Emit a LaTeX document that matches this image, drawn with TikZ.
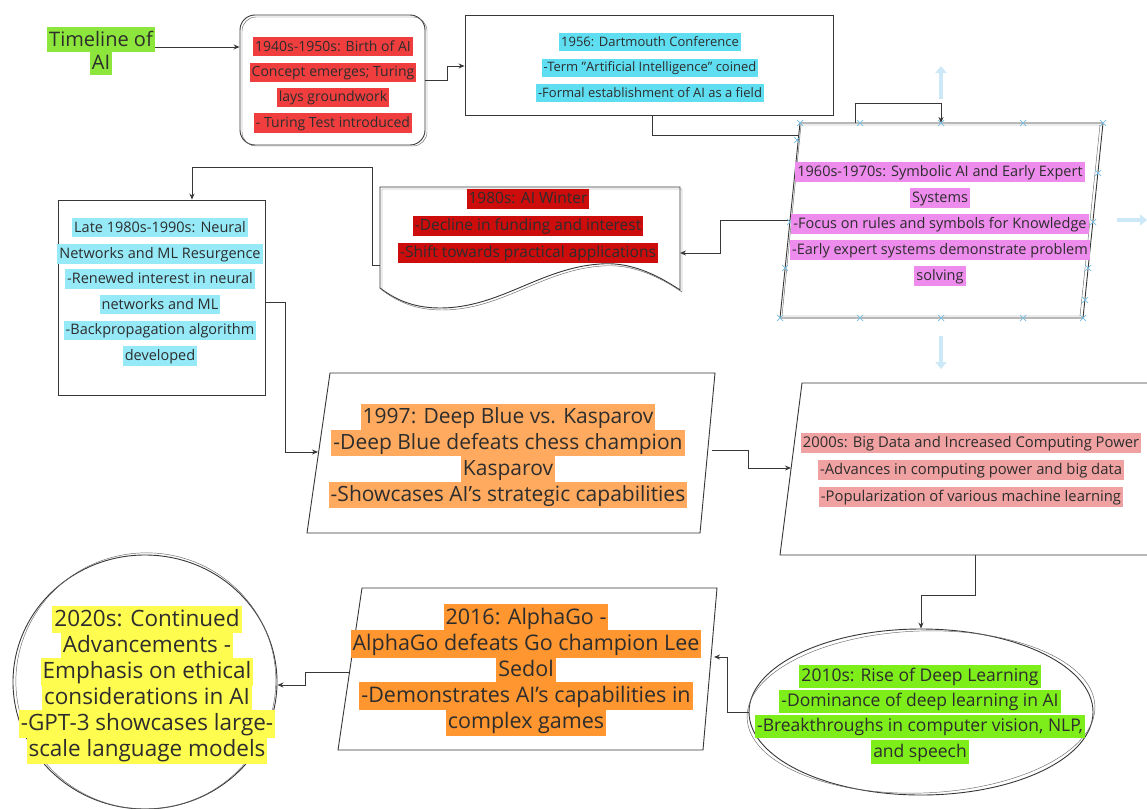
\documentclass[tikz,border=0pt]{standalone}
\usepackage{fontspec}
\setmainfont{Open Sans}
\usetikzlibrary{arrows.meta,shapes.geometric}

\definecolor{ink}{RGB}{45,45,45}
\definecolor{edge}{RGB}{55,55,55}
\definecolor{hlLime}{RGB}{140,230,60}
\definecolor{hlRed}{RGB}{240,62,62}
\definecolor{hlCyan}{RGB}{95,222,242}
\definecolor{hlCyanSoft}{RGB}{150,234,248}
\definecolor{hlMagenta}{RGB}{238,140,238}
\definecolor{hlDarkRed}{RGB}{205,12,12}
\definecolor{hlPeach}{RGB}{255,170,95}
\definecolor{hlPink}{RGB}{240,162,162}
\definecolor{hlGreen}{RGB}{125,238,25}
\definecolor{hlOrange}{RGB}{255,150,48}
\definecolor{hlYellow}{RGB}{255,252,80}
\definecolor{handle}{RGB}{120,190,225}
\definecolor{hintblue}{RGB}{205,232,247}

% highlighted text line
\newcommand\hl[2]{{\setlength\fboxsep{2pt}\colorbox{#1}{\rule[-0.2em]{0pt}{1.05em}#2}}}
% font size with a fixed line pitch
\newcommand\txtsize[2]{\fontsize{#1}{#2}\selectfont\lineskiplimit=-100pt\relax}

\begin{document}
\begin{tikzpicture}[x=1pt,y=-1pt,
  box/.style={draw=edge, line width=0.9pt, fill=white},
  echo/.style={draw=edge!75, line width=0.45pt},
  link/.style={draw=edge, line width=0.9pt, -{Stealth[length=6pt,width=5pt]}},
  txt/.style={align=center, inner sep=0pt, text=ink},
  hdl/.style={draw=handle, line width=0.7pt},
  hint/.style={draw=hintblue, line width=3.5pt, -{Triangle[length=7pt,width=11pt]}}
]
\useasboundingbox (0,0) rectangle (1147,808);
\fill[white] (0,0) rectangle (1147,808);

% faint hover arrows around the 1960s block
\draw[hint] (941,99) -- (941,66);
\draw[hint] (941,336) -- (941,369);
\draw[hint] (1117,220) -- (1147,220);

% rectangular and round blocks
\node[box, rounded corners=15pt, minimum width=185, minimum height=130] (b1) at (332.5,80) {};
\draw[echo, rounded corners=14pt] (242,17) rectangle (427,146);
\node[box, minimum width=368, minimum height=100] (b2) at (649,65) {};
\node[box, minimum width=207, minimum height=195] (b5) at (161.5,297.5) {};
\node[box, ellipse, minimum width=344, minimum height=166, inner sep=0pt] (b8) at (921,712) {};
\draw[echo, rotate around={2:(921,712)}] (921,712) ellipse [x radius=174, y radius=81];
\node[box, ellipse, minimum width=264, minimum height=254, inner sep=0pt] (b10) at (145,682) {};
\draw[echo, rotate around={8:(145,682)}] (146,681) ellipse [x radius=130, y radius=128];

% attachment points on the drawn outlines
\coordinate (p3top) at (941,123);
\coordinate (p3left) at (790,220);
\coordinate (p4left) at (380,265);
\coordinate (p4right) at (680,253);
\coordinate (p6left) at (318,452);
\coordinate (p6right) at (712,450);
\coordinate (p7left) at (791,468);
\coordinate (p7bottom) at (975,555);
\coordinate (p9left) at (350,672);
\coordinate (p9right) at (714,657);

% title
\node[txt, font=\txtsize{20}{23}] (title) at (101,51)
  {\hl{hlLime}{Timeline of}\\\hl{hlLime}{AI}};

% connectors
\draw[link] (title.east |- 0,47) -- (b1.west |- 0,47);
\draw[link] (b1.east) -- (447,80) -- (447,66) -- (b2.west |- 0,66);
\draw[link] (b2.south -| 652,0) -- (652,135) -- (855,135) -- (855,103) -- (941,103) -- (p3top);
\draw[link] (p3left) -- (720,220) -- (720,253) -- (p4right);
\draw[link] (p4left) -- (372,265) -- (372,167) -- (192,167) -- (b5.north -| 192,0);
\draw[link] (b5.east |- 0,302) -- (285,302) -- (285,452) -- (p6left);
\draw[link] (p6right) -- (748,450) -- (748,468) -- (p7left);
\draw[link] (p7bottom) -- (975,595) -- (921,595) -- (b8.north);
\draw[link] (b8.west) -- (727,712) -- (727,657) -- (p9right);
\draw[link] (p9left) -- (305,672) -- (305,685) -- (b10.east |- 0,685);

% slanted blocks and the document block
\draw[box] (800,123) -- (1103,123) -- (1083,318) -- (780,318) -- cycle;
\draw[echo] (801,125) -- (1100,125) -- (1080,316) -- (782,316) -- cycle;
\draw[box] (380,187) -- (680,187) -- (680,290)
  .. controls (650,270) and (625,262) .. (600,264)
  .. controls (540,268) and (500,308) .. (440,308)
  .. controls (410,308) and (392,297) .. (380,288) -- cycle;
\draw[echo, shift={(2,2)}] (380,187) -- (680,187) -- (680,290)
  .. controls (650,270) and (625,262) .. (600,264)
  .. controls (540,268) and (500,308) .. (440,308)
  .. controls (410,308) and (392,297) .. (380,288) -- cycle;
\draw[box] (330,373) -- (715,373) -- (700,533) -- (307,533) -- cycle;
\draw[box] (802,383) -- (1165,383) -- (1150,555) -- (780,555) -- cycle;
\draw[box] (362,588) -- (717,588) -- (703,750) -- (338,750) -- cycle;

% selection handles on the 1960s block
\foreach \x/\y in {800/123,860/123,941/123,1023/123,1103/123,
                   780/318,860/318,941/318,1023/318,1083/318,
                   797/140,790/222,785/268,
                   1098/173,1093/222,1088/268,1085/300}
  \draw[hdl] (\x-3,\y-3) -- (\x+3,\y+3) (\x-3,\y+3) -- (\x+3,\y-3);

% block texts
\node[txt, font=\txtsize{14}{25.3}] (n1) at (333,85)
  {\hl{hlRed}{1940s-1950s: Birth of AI}\\
   \hl{hlRed}{Concept emerges; Turing}\\
   \hl{hlRed}{lays groundwork}\\
   \hl{hlRed}{- Turing Test introduced}};

\node[txt, font=\txtsize{13}{25.5}] (n2) at (650,67.5)
  {\hl{hlCyan}{1956: Dartmouth Conference}\\
   \hl{hlCyan}{-Term "Artificial Intelligence" coined}\\
   \hl{hlCyan}{-Formal establishment of AI as a field}};

\node[txt, font=\txtsize{14.5}{26}] (n3) at (940,224)
  {\hl{hlMagenta}{1960s-1970s: Symbolic AI and Early Expert}\\
   \hl{hlMagenta}{Systems}\\
   \hl{hlMagenta}{-Focus on rules and symbols for Knowledge}\\
   \hl{hlMagenta}{-Early expert systems demonstrate problem}\\
   \hl{hlMagenta}{solving}};

\node[txt, font=\txtsize{15.5}{27}] (n4) at (528,226)
  {\hl{hlDarkRed}{1980s: AI Winter}\\
   \hl{hlDarkRed}{-Decline in funding and interest}\\
   \hl{hlDarkRed}{-Shift towards practical applications}};

\node[txt, font=\txtsize{14.5}{25.6}] (n5) at (160,292)
  {\hl{hlCyanSoft}{Late 1980s-1990s: Neural}\\
   \hl{hlCyanSoft}{Networks and ML Resurgence}\\
   \hl{hlCyanSoft}{-Renewed interest in neural}\\
   \hl{hlCyanSoft}{networks and ML}\\
   \hl{hlCyanSoft}{-Backpropagation algorithm}\\
   \hl{hlCyanSoft}{developed}};

\node[txt, font=\txtsize{21}{26}] (n6) at (508,456)
  {\hl{hlPeach}{1997: Deep Blue vs. Kasparov}\\
   \hl{hlPeach}{-Deep Blue defeats chess champion}\\
   \hl{hlPeach}{Kasparov}\\
   \hl{hlPeach}{-Showcases AI's strategic capabilities}};

\node[txt, font=\txtsize{14.8}{27}] (n7) at (971,470)
  {\hl{hlPink}{2000s: Big Data and Increased Computing Power}\\
   \hl{hlPink}{-Advances in computing power and big data}\\
   \hl{hlPink}{-Popularization of various machine learning}};

\node[txt, font=\txtsize{17.5}{25.3}] (n8) at (920,714)
  {\hl{hlGreen}{2010s: Rise of Deep Learning}\\
   \hl{hlGreen}{-Dominance of deep learning in AI}\\
   \hl{hlGreen}{-Breakthroughs in computer vision, NLP,}\\
   \hl{hlGreen}{and speech}};

\node[txt, font=\txtsize{21.5}{26.2}] (n9) at (526,670)
  {\hl{hlOrange}{2016: AlphaGo -}\\
   \hl{hlOrange}{AlphaGo defeats Go champion Lee}\\
   \hl{hlOrange}{Sedol}\\
   \hl{hlOrange}{-Demonstrates AI's capabilities in}\\
   \hl{hlOrange}{complex games}};

\node[txt, font=\txtsize{22.5}{26}] (n10) at (147,685)
  {\hl{hlYellow}{2020s: Continued}\\
   \hl{hlYellow}{Advancements -}\\
   \hl{hlYellow}{Emphasis on ethical}\\
   \hl{hlYellow}{considerations in AI}\\
   \hl{hlYellow}{-GPT-3 showcases large-}\\
   \hl{hlYellow}{scale language models}};
\end{tikzpicture}
\end{document}
